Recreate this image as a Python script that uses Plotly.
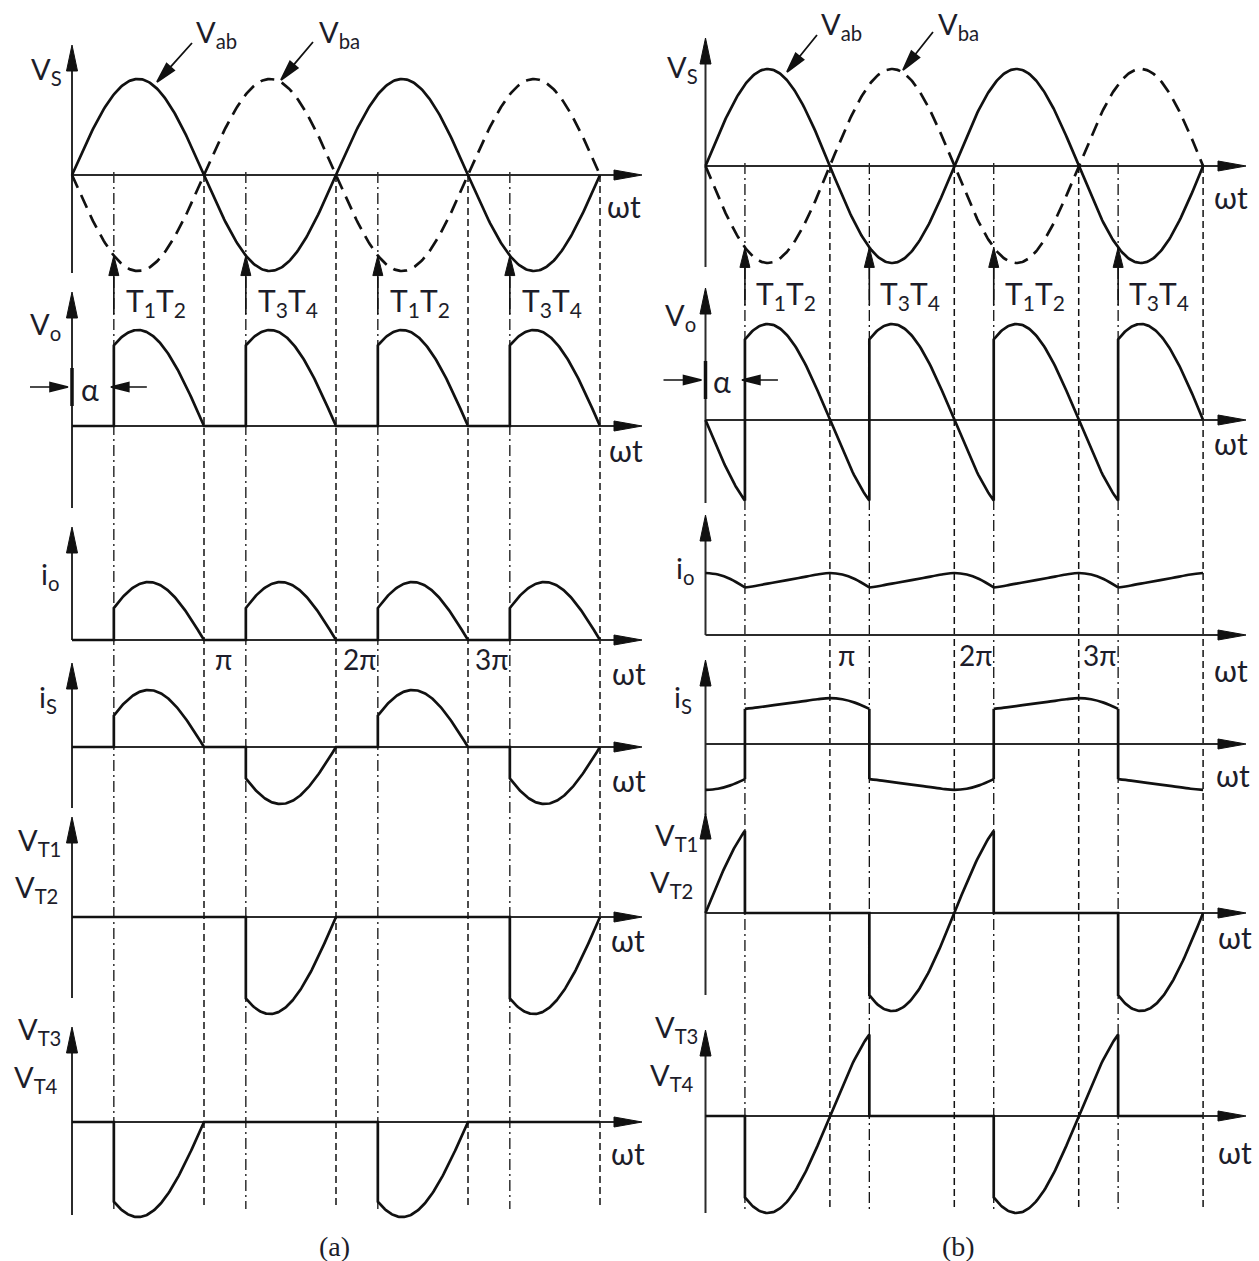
import math
import numpy as np
import plotly.graph_objects as go

W, H = 1259, 1261
INK = "#111111"
AXIS = "#2b2b2b"
TXT = "#1d1d2a"
SANS = "Lato, 'Open Sans', 'DejaVu Sans', sans-serif"
SERIF = "'Liberation Serif', 'DejaVu Serif', serif"

# ---------------- waveform parameters (ωt in units of π) ----------------
ALPHA = 0.317          # firing angle α
END = 4                # sweep 0 … 4π
IO_A_START = 0.55      # (a) io / is right after firing, as a fraction of their peak
# (b) continuous load current: one ripple period (period = π), cusp at α
IO_B_PHASE = [0.0, 0.1, 0.2, ALPHA, 0.42, 0.55, 0.75, 0.9, 1.0]
IO_B_VALUE = [0.646, 0.630, 0.583, 0.495, 0.516, 0.547, 0.594, 0.630, 0.646]

PI_TICKS = [1, 2, 3]
PI_TEXT = ["π", "2π", "3π"]
FIRING_TEXT = ["T<sub>1</sub>T<sub>2</sub>", "T<sub>3</sub>T<sub>4</sub>",
               "T<sub>1</sub>T<sub>2</sub>", "T<sub>3</sub>T<sub>4</sub>"]

# ---------------- page geometry (pixels) ----------------
COLS = {
    "a": dict(x="x", origin=72.0, per_pi=132.0, tip=642, caption="(a)", cap=(334, 1246),
              guide=(175, 1207), shaft_end=314, alpha_y=387, alpha_txt=(90, 389),
              fire_y=302, fire_dx=42, pi_y=659, pi_dx=19,
              vab=((216, 33), (192, 43), (157, 82)), vba=((339, 33), (313, 42), (281, 80))),
    "b": dict(x="x2", origin=705.5, per_pi=124.4, tip=1246, caption="(b)", cap=(958, 1246),
              guide=(166, 1210), shaft_end=305, alpha_y=380, alpha_txt=(722, 381),
              fire_y=295, fire_dx=41, pi_y=655, pi_dx=17,
              vab=((842, 25), (817, 35), (787, 72)), vba=((958, 25), (933, 32), (903, 70))),
}

ROWS = [
    # column a
    dict(col="a", key="vs", y0=175, s=96, top=45, bot=273, wt=(624, 206),
         labels=[("V<sub>S</sub>", 46, 70)]),
    dict(col="a", key="vo", y0=426, s=96, top=292, bot=508, wt=(626, 450),
         labels=[("V<sub>o</sub>", 45, 326)]),
    dict(col="a", key="io", y0=640, s=58, top=527, bot=640, wt=(629, 673),
         labels=[("i<sub>o</sub>", 50, 576)]),
    dict(col="a", key="is", y0=747, s=57, top=663, bot=808, wt=(629, 780),
         labels=[("i<sub>S</sub>", 48, 698)]),
    dict(col="a", key="vt1", y0=917, s=97, top=817, bot=998, wt=(628, 940),
         labels=[("V<sub>T1</sub>", 39, 841), ("V<sub>T2</sub>", 36, 888)]),
    dict(col="a", key="vt3", y0=1122, s=95, top=1027, bot=1215, wt=(628, 1153),
         labels=[("V<sub>T3</sub>", 39, 1030), ("V<sub>T4</sub>", 36, 1078)]),
    # column b
    dict(col="b", key="vs", y0=166, s=97, top=38, bot=267, wt=(1231, 197),
         labels=[("V<sub>S</sub>", 682, 68)]),
    dict(col="b", key="vo", y0=420, s=96, top=288, bot=503, wt=(1231, 443),
         labels=[("V<sub>o</sub>", 680, 316)]),
    dict(col="b", key="io", y0=635, s=96, top=515, bot=635, wt=(1231, 670),
         labels=[("i<sub>o</sub>", 685, 570)]),
    dict(col="b", key="is", y0=744, s=71, top=660, bot=815, wt=(1233, 775),
         labels=[("i<sub>S</sub>", 683, 698)]),
    dict(col="b", key="vt1", y0=913, s=98, top=813, bot=995, wt=(1235, 937),
         labels=[("V<sub>T1</sub>", 676, 836), ("V<sub>T2</sub>", 672, 884)]),
    dict(col="b", key="vt3", y0=1116, s=97, top=1030, bot=1213, wt=(1235, 1152),
         labels=[("V<sub>T3</sub>", 676, 1028), ("V<sub>T4</sub>", 672, 1076)]),
]
for i, r in enumerate(ROWS):
    r["y"] = "y" if i == 0 else f"y{i + 1}"


def fx(px):
    return px / W


def fy(py):
    return 1 - py / H


# ---------------- waveform builders ----------------
def sine(t0, t1, sign=1.0, n=90):
    t = np.linspace(t0, t1, n)
    return t, sign * np.sin(np.pi * t)


def flat(t0, t1):
    return np.array([t0, t1]), np.array([0.0, 0.0])


def chain(*segs):
    return np.concatenate([s[0] for s in segs]), np.concatenate([s[1] for s in segs])


def hump_a(k, n=90):
    t = np.linspace(k + ALPHA, k + 1, n)
    p0 = math.asin(IO_A_START)
    ph = p0 + (t - k - ALPHA) / (1 - ALPHA) * (math.pi - p0)
    return t, np.sin(ph)


def io_b_segment(k):
    """Load current between firings k+α and k+1+α (spline through the ripple samples)."""
    ts, vs = [], []
    for ph, v in zip(IO_B_PHASE, IO_B_VALUE):
        if ph >= ALPHA - 1e-9:
            ts.append(k + ph); vs.append(v)
    for ph, v in zip(IO_B_PHASE[1:], IO_B_VALUE[1:]):
        if ph <= ALPHA + 1e-9:
            ts.append(k + 1 + ph); vs.append(v)
    keep = [(t, v) for t, v in zip(ts, vs) if -1e-9 <= t <= END + 1e-9]
    return np.array([p[0] for p in keep]), np.array([p[1] for p in keep])


waves = {}   # (col, key) -> list of (t, v, style)

# supply voltage, both columns
for c in "ab":
    t, v = sine(0, END, 1.0, 400)
    waves[(c, "vs")] = [(t, v, "solid"), (t, -v, "dash")]

# (a) discontinuous conduction
segs = [flat(0, ALPHA)]
for k in range(END):
    segs.append(sine(k + ALPHA, k + 1, (-1) ** k))
    if k < END - 1:
        segs.append(flat(k + 1, k + 1 + ALPHA))
waves[("a", "vo")] = [(*chain(*segs), "solid")]

segs = [flat(0, ALPHA)]
segs_s = [flat(0, ALPHA)]
for k in range(END):
    t, v = hump_a(k)
    segs.append((t, v))
    segs_s.append((t, (-1) ** k * v))
    if k < END - 1:
        segs.append(flat(k + 1, k + 1 + ALPHA))
        segs_s.append(flat(k + 1, k + 1 + ALPHA))
waves[("a", "io")] = [(*chain(*segs), "solid")]
waves[("a", "is")] = [(*chain(*segs_s), "solid")]

segs1, segs3 = [flat(0, ALPHA)], [flat(0, ALPHA)]
for k in range(END):
    on = sine(k + ALPHA, k + 1, 1.0)
    off = flat(k + ALPHA, k + 1)
    if k % 2:          # T1, T2 blocking
        segs1.append(on); segs3.append(off)
    else:              # T3, T4 blocking
        segs1.append(off); segs3.append((on[0], -on[1]))
    if k < END - 1:
        segs1.append(flat(k + 1, k + 1 + ALPHA))
        segs3.append(flat(k + 1, k + 1 + ALPHA))
waves[("a", "vt1")] = [(*chain(*segs1), "solid")]
waves[("a", "vt3")] = [(*chain(*segs3), "solid")]

# (b) continuous conduction
segs_o, segs1, segs3 = [], [], []
for k in range(-1, END):
    t0, t1 = max(0, k + ALPHA), min(END, k + 1 + ALPHA)
    segs_o.append(sine(t0, t1, (-1) ** k))
    if k % 2:
        segs1.append(sine(t0, t1, 1.0)); segs3.append(flat(t0, t1))
    else:
        segs1.append(flat(t0, t1)); segs3.append(sine(t0, t1, -1.0))
waves[("b", "vo")] = [(*chain(*segs_o), "solid")]
waves[("b", "vt1")] = [(*chain(*segs1), "solid")]
waves[("b", "vt3")] = [(*chain(*segs3), "solid")]

io_list, is_list = [], []
for k in range(-1, END):
    t, v = io_b_segment(k)
    io_list.append((t, v, "spline"))
    is_list.append((t, (-1) ** k * v, "spline"))
    if k >= 0:
        va = IO_B_VALUE[IO_B_PHASE.index(ALPHA)]
        is_list.append((np.array([k + ALPHA, k + ALPHA]),
                        np.array([-((-1) ** k) * va, ((-1) ** k) * va]), "solid"))
waves[("b", "io")] = io_list
waves[("b", "is")] = is_list

# ---------------- figure ----------------
fig = go.Figure()
for r in ROWS:
    c = COLS[r["col"]]
    for t, v, style in waves[(r["col"], r["key"])]:
        line = dict(color=INK, width=2.7)
        if style == "dash":
            line["dash"] = "14px,8px"
        if style == "spline":
            line["shape"] = "spline"
            line["smoothing"] = 1.0
        fig.add_trace(go.Scatter(x=t, y=v, xaxis=c["x"], yaxis=r["y"], mode="lines",
                                 line=line, hoverinfo="skip", showlegend=False))

shapes, notes = [], []


def arrow_path(ang, length, width, shaft=0.0, gap=0.0):
    a = math.radians(ang)
    ux, uy = math.cos(a), math.sin(a)
    nx, ny = -uy, ux
    tx, ty = -gap * ux, -gap * uy
    bx, by = tx - length * ux, ty - length * uy
    d = (f"M{tx:.2f},{ty:.2f} L{bx + width / 2 * nx:.2f},{by + width / 2 * ny:.2f} "
         f"L{bx - width / 2 * nx:.2f},{by - width / 2 * ny:.2f} Z")
    if shaft:
        sx, sy = tx - shaft * ux, ty - shaft * uy
        d += f" M{sx:.2f},{sy:.2f} L{bx:.2f},{by:.2f}"
    return d


def head(xref, yref, xa, ya, ang, length=26, width=10, shaft=0.0, gap=0.0, lw=1.0):
    shapes.append(dict(type="path", xref=xref, yref=yref, xsizemode="pixel", ysizemode="pixel",
                       xanchor=xa, yanchor=ya, path=arrow_path(ang, length, width, shaft, gap),
                       fillcolor=INK, line=dict(color=INK, width=lw), layer="above"))


def text(s, px, py, size=29, family=SANS, **kw):
    d = dict(text=s, x=fx(px), y=fy(py), xref="paper", yref="paper", showarrow=False,
             xanchor="center", yanchor="middle", font=dict(family=family, size=size, color=TXT))
    d.update(kw)
    notes.append(d)


# axes with arrowheads, labels
for r in ROWS:
    c = COLS[r["col"]]
    t_tip = (c["tip"] - c["origin"]) / c["per_pi"]
    shapes.append(dict(type="line", xref=c["x"], yref=r["y"], x0=0, x1=t_tip - 0.1, y0=0, y1=0,
                       line=dict(color=AXIS, width=2), layer="below"))
    head(c["x"], r["y"], t_tip, 0, 0, length=28, width=10)
    shapes.append(dict(type="line", xref=c["x"], yref="paper", x0=0, x1=0,
                       y0=fy(r["bot"]), y1=fy(r["top"] + 10), line=dict(color=AXIS, width=2),
                       layer="below"))
    head(c["x"], "paper", 0, fy(r["top"]), 90, length=26, width=11)
    for s, px, py in r["labels"]:
        text(s, px, py)
    text("ωt", *r["wt"], size=30)

# guide lines, firing arrows, π marks, captions
for cname, c in COLS.items():
    g0, g1 = c["guide"]
    for k in range(1, END + 1):
        shapes.append(dict(type="line", xref=c["x"], yref="paper", x0=k, x1=k,
                           y0=fy(g0), y1=fy(g1), layer="below",
                           line=dict(color=INK, width=1.5, dash="7px,4px")))
    vs_row = next(r for r in ROWS if r["col"] == cname and r["key"] == "vs")
    tip_v = -math.sin(math.pi * ALPHA)
    shaft_v = (vs_row["y0"] - c["shaft_end"]) / vs_row["s"]
    for k in range(END):
        tk = k + ALPHA
        shapes.append(dict(type="line", xref=c["x"], yref="paper", x0=tk, x1=tk,
                           y0=fy(g0 - 3), y1=fy(g1 + 2), layer="below",
                           line=dict(color=INK, width=1.3, dash="11px,4px,2px,4px")))
        shapes.append(dict(type="line", xref=c["x"], yref=vs_row["y"], x0=tk, x1=tk,
                           y0=shaft_v, y1=tip_v - 0.15, line=dict(color=INK, width=1.6)))
        head(c["x"], vs_row["y"], tk, tip_v, 90, length=20, width=10)
        notes.append(dict(text=FIRING_TEXT[k], x=tk, y=fy(c["fire_y"]), xref=c["x"], yref="paper",
                          xshift=c["fire_dx"], showarrow=False, xanchor="center", yanchor="middle",
                          font=dict(family=SANS, size=30, color=TXT)))
    for tk, s in zip(PI_TICKS, PI_TEXT):
        notes.append(dict(text=s, x=tk, y=fy(c["pi_y"]), xref=c["x"], yref="paper",
                          xshift=c["pi_dx"] + (0 if len(s) == 1 else 4), showarrow=False,
                          xanchor="center", yanchor="middle",
                          font=dict(family=SANS, size=28, color=TXT)))
    text(c["caption"], *c["cap"], size=28, family=SERIF)

    # Vab / Vba call-outs
    for name, (lab, start, tip) in (("V<sub>ab</sub>", c["vab"]), ("V<sub>ba</sub>", c["vba"])):
        text(name, *lab, size=29)
        dx, dy = tip[0] - start[0], tip[1] - start[1]
        ang = math.degrees(math.atan2(-dy, dx))
        length = math.hypot(dx, dy)
        head("paper", "paper", fx(tip[0]), fy(tip[1]), ang, length=20, width=10,
             shaft=length, lw=1.8)

    # firing-angle marker on the Vo row
    vo_row = next(r for r in ROWS if r["col"] == cname and r["key"] == "vo")
    ay = (vo_row["y0"] - c["alpha_y"]) / vo_row["s"]
    half = 19 / vo_row["s"]
    shapes.append(dict(type="line", xref=c["x"], yref=vo_row["y"], x0=0, x1=0,
                       y0=ay - half, y1=ay + half, line=dict(color=INK, width=3.5)))
    head(c["x"], vo_row["y"], 0, ay, 0, length=18, width=9, shaft=38, gap=4, lw=1.6)
    head(c["x"], vo_row["y"], ALPHA, ay, 180, length=18, width=9, shaft=36, gap=-3, lw=1.6)
    text("α", *c["alpha_txt"], size=30)

layout_axes = {
    "xaxis": dict(range=[-COLS["a"]["origin"] / COLS["a"]["per_pi"],
                         (W - COLS["a"]["origin"]) / COLS["a"]["per_pi"]],
                  domain=[0, 1], visible=False, anchor="y", fixedrange=True),
    "xaxis2": dict(range=[-COLS["b"]["origin"] / COLS["b"]["per_pi"],
                          (W - COLS["b"]["origin"]) / COLS["b"]["per_pi"]],
                   domain=[0, 1], visible=False, anchor="y7", fixedrange=True),
}
for i, r in enumerate(ROWS):
    name = "yaxis" if i == 0 else f"yaxis{i + 1}"
    layout_axes[name] = dict(range=[(r["y0"] - H) / r["s"], r["y0"] / r["s"]], domain=[0, 1],
                             visible=False, anchor=COLS[r["col"]]["x"], fixedrange=True)

fig.update_layout(width=W, height=H, autosize=False, margin=dict(l=0, r=0, t=0, b=0),
                  paper_bgcolor="white", plot_bgcolor="rgba(0,0,0,0)", showlegend=False,
                  shapes=shapes, annotations=notes, **layout_axes)
fig.write_html("out.html")
